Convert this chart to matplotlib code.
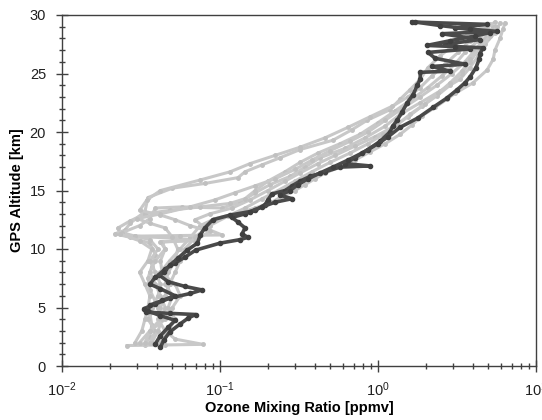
import matplotlib
matplotlib.use("Agg")
import matplotlib.pyplot as plt
from matplotlib.ticker import LogLocator, MultipleLocator, NullFormatter

plt.rcParams['font.family'] = ['Liberation Sans', 'DejaVu Sans']

# ---- gray profiles (altitude km, ozone ppmv) ----
g1_alt = [1.8,2.5,3.5,4.5,5.5,6.5,7.5,8.5,9.5,10.5,11.0,11.3,11.6,12.2,13.2,14.4,15.2,15.6,16.1,16.6,17.2,17.8,18.5,19.3,20.2,21.0,21.9,22.8,23.6,24.5,25.5,26.5,27.5,28.5,29.2]
g1_o3 = [0.0335,0.036,0.037,0.036,0.039,0.036,0.035,0.037,0.039,0.036,0.027,0.0216,0.025,0.027,0.0335,0.035,0.050,0.080,0.130,0.144,0.185,0.240,0.321,0.519,0.685,0.852,1.19,1.38,1.59,1.85,2.07,2.47,3.07,3.82,5.12]

g2_alt = [1.75,1.8,1.85,2.3,3.0,4.0,5.0,6.0,7.0,8.0,9.0,10.0,10.6,10.8,11.1,11.4,12.0,12.6,13.5,13.6,13.5,14.0,14.8,15.5,16.2,17.0,17.8,18.6,19.5,20.5,21.5,22.5,23.5,24.5,25.5,26.5,27.5,28.5,29.3]
g2_o3 = [0.0258,0.045,0.078,0.052,0.045,0.0405,0.042,0.045,0.048,0.043,0.042,0.045,0.043,0.070,0.029,0.024,0.031,0.036,0.039,0.0575,0.103,0.134,0.167,0.207,0.277,0.345,0.430,0.618,0.828,1.11,1.38,1.85,2.47,3.30,3.82,4.30,4.76,5.50,5.92]

g3_alt = [2.0,3.0,4.0,5.0,6.0,7.0,8.0,9.0,10.0,11.0,12.0,12.6,13.0,13.5,14.0,14.5,15.0,15.5,16.0,16.5,17.0,17.6,18.3,19.0,19.8,20.6,21.4,22.1,22.8,23.3,24.2,25.3,26.2,27.0,28.0,28.8,29.3]
g3_o3 = [0.031,0.036,0.045,0.050,0.056,0.052,0.042,0.048,0.056,0.065,0.075,0.093,0.124,0.167,0.213,0.247,0.298,0.345,0.399,0.462,0.575,0.715,0.890,1.11,1.38,1.64,1.90,2.30,2.73,3.07,3.99,4.90,5.35,5.50,5.92,6.18,6.37]

g4_alt = [2.0,3.0,4.0,5.0,6.0,7.0,8.0,9.0,10.0,10.8,11.1,11.15,11.2,11.8,12.5,13.0,13.5,14.2,15.0,15.8,16.5,17.3,18.0,18.8,19.6,20.4,21.3,22.2,23.1,24.0,25.0,26.0,27.0,28.0,29.0]
g4_o3 = [0.036,0.039,0.035,0.037,0.0405,0.042,0.039,0.036,0.0405,0.036,0.029,0.056,0.103,0.080,0.0695,0.086,0.119,0.155,0.201,0.258,0.321,0.417,0.535,0.715,0.957,1.23,1.55,1.90,2.36,2.86,3.40,3.82,4.30,4.97,5.50]

g5_alt = [2.0,3.0,4.0,5.0,6.0,7.0,8.0,9.0,10.0,10.7,11.3,11.8,12.4,13.0,13.3,13.6,13.9,14.3,15.0,15.8,16.6,17.4,18.2,19.0,19.8,20.8,21.8,22.8,23.8,24.8,25.8,26.8,27.8,28.8]
g5_o3 = [0.029,0.032,0.0335,0.035,0.036,0.0335,0.031,0.035,0.037,0.031,0.0233,0.0226,0.027,0.0335,0.048,0.075,0.116,0.144,0.167,0.201,0.258,0.321,0.417,0.575,0.769,1.00,1.28,1.64,2.07,2.54,3.07,3.55,4.30,4.97]

g6_alt = [2.0,3.0,4.0,5.0,6.0,7.0,8.0,9.0,10.0,11.0,11.8,12.2,12.6,13.0,13.6,14.2,14.8,15.4,16.0,16.8,17.6,18.4,19.2,20.0,21.0,22.0,23.0,24.0,25.0,26.0,27.0,28.0,29.0]
g6_o3 = [0.042,0.047,0.052,0.047,0.050,0.045,0.047,0.052,0.054,0.050,0.045,0.036,0.030,0.042,0.0646,0.093,0.124,0.167,0.223,0.298,0.382,0.497,0.665,0.865,1.11,1.42,1.85,2.36,2.94,3.55,4.11,4.76,5.35]

g7_alt = [2.0,3.0,4.0,5.0,6.0,7.0,8.0,9.0,10.0,10.6,10.7,11.5,12.0,12.5,12.9,13.3,14.2,15.0,15.9,16.6,17.3,18.0,18.7,19.5,20.4,21.3,22.2,23.0,23.8,24.8,25.8,26.8,27.8,28.8,29.4]
g7_o3 = [0.0335,0.036,0.042,0.045,0.042,0.039,0.036,0.039,0.045,0.042,0.0695,0.086,0.0646,0.052,0.042,0.031,0.0345,0.042,0.075,0.116,0.155,0.223,0.321,0.462,0.646,0.890,1.23,1.55,1.85,2.20,2.66,3.21,3.82,4.76,5.50]

g8_alt = [2.0,3.0,4.0,5.0,6.0,7.0,8.0,9.0,10.0,11.0,12.0,12.8,13.5,14.3,15.0,15.8,16.6,17.4,18.2,19.0,19.8,20.6,21.5,22.4,23.3,24.2,25.2,26.2,27.2,28.2,29.0]
g8_o3 = [0.037,0.0405,0.043,0.0405,0.045,0.048,0.052,0.056,0.060,0.0695,0.086,0.112,0.144,0.185,0.233,0.298,0.382,0.497,0.665,0.865,1.08,1.32,1.59,1.98,2.40,2.86,3.40,3.82,4.42,5.12,5.67]

# ---- dark profiles ----
d1_alt = [1.6,2.2,2.9,3.6,4.1,4.4,4.5,4.6,4.9,5.3,5.8,6.2,6.5,6.8,7.2,7.8,8.3,8.8,9.3,9.9,10.5,10.8,11.0,11.3,11.8,12.3,12.7,13.0,13.3,13.8,14.2,14.7,15.0,15.4,15.8,16.2,16.6,17.0,17.1,17.3,17.8,18.5,19.2,20.0,20.5,21.0,21.7,22.5,23.2,24.0,24.5,25.1,25.2,25.6,25.8,26.3,26.8,27.1,27.5,27.9,28.4,28.6,28.9,29.2,29.4]
d1_o3 = [0.042,0.044,0.048,0.056,0.063,0.070,0.048,0.034,0.033,0.039,0.048,0.065,0.077,0.060,0.047,0.041,0.045,0.052,0.060,0.070,0.100,0.134,0.150,0.138,0.144,0.130,0.119,0.144,0.167,0.193,0.201,0.213,0.258,0.286,0.321,0.371,0.462,0.575,0.890,0.618,0.715,0.865,1.03,1.19,1.24,1.32,1.42,1.53,1.67,1.77,1.85,1.85,2.86,2.20,3.55,2.30,2.07,3.82,2.66,4.42,2.54,5.67,3.07,4.90,1.64]

d2_alt = [1.9,2.6,3.3,3.9,4.3,4.7,5.2,5.6,6.0,6.6,7.0,7.6,8.0,8.6,9.2,9.9,10.5,11.2,11.8,12.5,12.9,13.2,13.6,14.0,14.3,14.6,15.0,15.5,16.0,16.5,17.0,17.6,18.2,19.0,19.6,20.4,21.2,22.1,22.9,23.6,24.2,24.7,25.5,26.2,26.7,27.2,27.3,27.4,27.8,28.2,28.5,28.8,29.1,29.4]
d2_o3 = [0.039,0.042,0.047,0.052,0.042,0.035,0.036,0.043,0.052,0.042,0.036,0.039,0.044,0.048,0.054,0.062,0.072,0.075,0.080,0.090,0.116,0.155,0.185,0.223,0.286,0.240,0.277,0.312,0.361,0.430,0.519,0.646,0.792,1.00,1.16,1.38,1.79,2.23,2.73,3.16,3.55,3.82,4.17,4.36,4.42,4.62,3.07,2.04,2.86,4.11,5.12,3.82,2.47,1.72]

gray_profiles = [(g1_o3, g1_alt), (g2_o3, g2_alt), (g3_o3, g3_alt), (g4_o3, g4_alt),
                 (g5_o3, g5_alt), (g6_o3, g6_alt), (g7_o3, g7_alt), (g8_o3, g8_alt)]
dark_profiles = [(d1_o3, d1_alt), (d2_o3, d2_alt)]

fig = plt.figure(figsize=(5.42, 4.2), dpi=100)
ax = fig.add_axes([62/542, 54/420, 474/542, 351/420])

for x, y in gray_profiles:
    ax.plot(x, y, color='#c8c8c8', lw=2.2, marker='o', ms=2.5, mec='#c0c0c0', mfc='#c0c0c0')
for x, y in dark_profiles:
    ax.plot(x, y, color='#4a4a4a', lw=2.6, marker='o', ms=3, mec='#404040', mfc='#404040')

ax.set_xscale('log')
ax.set_xlim(0.01, 10)
ax.set_ylim(0, 30)

ax.yaxis.set_major_locator(MultipleLocator(5))
ax.yaxis.set_minor_locator(MultipleLocator(1))
ax.xaxis.set_major_locator(LogLocator(base=10))
ax.xaxis.set_minor_locator(LogLocator(base=10, subs=range(2, 10)))
ax.xaxis.set_minor_formatter(NullFormatter())

for s in ax.spines.values():
    s.set_color('#404040')
    s.set_linewidth(1.0)

ax.tick_params(axis='both', which='major', direction='inout', length=9, width=1,
               color='#404040', labelsize=10.5, labelcolor='#202020')
ax.tick_params(axis='both', which='minor', direction='inout', length=5, width=1, color='#404040')
ax.tick_params(axis='x', which='major', pad=6)
ax.tick_params(axis='y', which='major', pad=7)
ax.tick_params(top=False, right=False, which='both')

ax.set_xlabel('Ozone Mixing Ratio [ppmv]', fontsize=10.5, fontweight='bold', labelpad=1)
ax.set_ylabel('GPS Altitude [km]', fontsize=10.5, fontweight='bold', labelpad=4)

fig.savefig('out.png', dpi=100)
